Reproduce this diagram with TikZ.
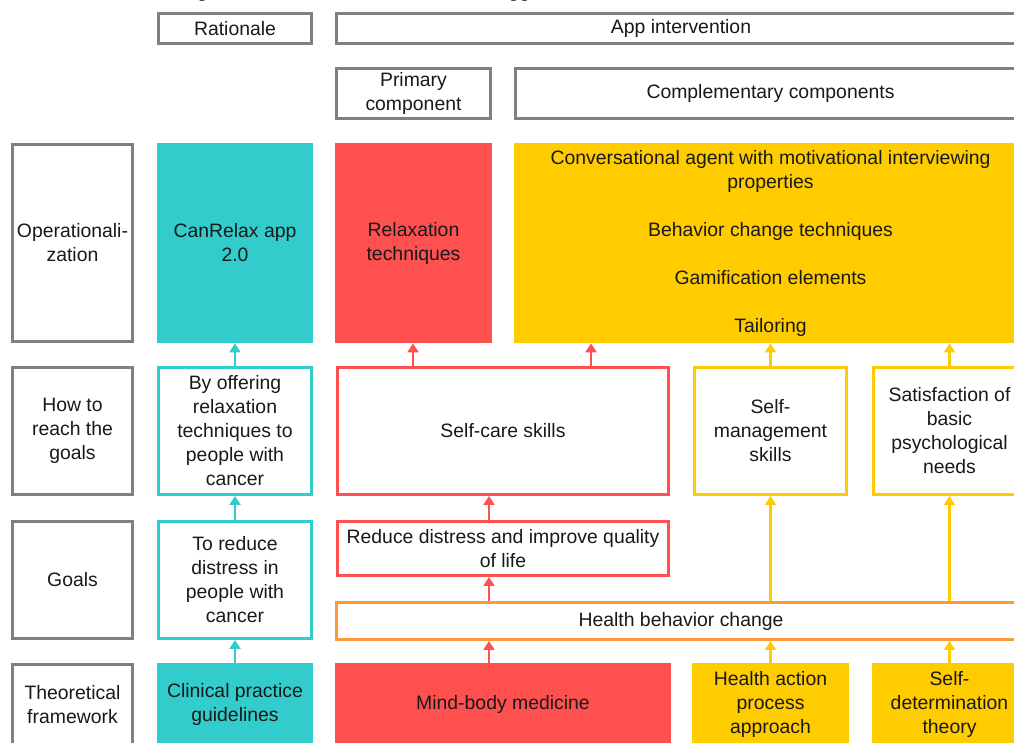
\documentclass[tikz,border=0pt]{standalone}
\usepackage{fontspec}
\setmainfont{Liberation Sans}
\newfontfamily\capfont{Liberation Serif}
\usetikzlibrary{arrows.meta}
\definecolor{cyanC}{RGB}{51,204,204}
\definecolor{redC}{RGB}{255,80,80}
\definecolor{yellowC}{RGB}{255,204,0}
\definecolor{orangeC}{RGB}{255,153,51}
\definecolor{greyC}{RGB}{128,128,128}
\definecolor{textC}{RGB}{25,25,25}
\begin{document}
\begin{tikzpicture}[x=0.5pt,y=-0.5pt,
  every node/.style={font=\fontsize{9.7pt}{12pt}\selectfont, text=textC, align=center, inner sep=0pt},
  sz/.style 2 args={minimum width=#1*0.5pt, minimum height=#2*0.5pt},
  greybox/.style={draw=greyC, line width=1.5pt, fill=white},
  linebox/.style={draw=#1, line width=1.5pt, fill=white},
  fillbox/.style={fill=#1},
  arr/.style={line width=1.25pt, color=#1, -{Triangle[width=5.5pt,length=4.5pt]}},
]
\useasboundingbox (0,0) rectangle (1014,743);
\fill[white] (0,0) rectangle (1014,743);

% clipped caption line at the top (only its lowest part shows)
\node[font=\capfont\fontsize{11pt}{13pt}\selectfont, text=black, anchor=base west, align=left] (caption) at (-57,-3.5)
  {Theoretical framework and operationalization of the CanRelax app 2.0.};

% header row
\node[greybox, sz={153}{30}] (rationale) at (235,28.5) {Rationale};
\node[greybox, sz={689}{30}] (appint) at (681,28.5) {App intervention};
\node[greybox, sz={154}{50}] (primary) at (413.5,93.5) {Primary\\component};
\node[greybox, sz={510}{50}] (complh) at (770.5,93.5) {Complementary components};

% left labels
\node[greybox, sz={120}{197}] (lop) at (72.5,243) {Operationali-\\zation};
\node[greybox, sz={120}{127}] (lhow) at (72.5,431) {How to\\reach the\\goals};
\node[greybox, sz={120}{117}] (lgoals) at (72.5,580) {Goals};
\node[greybox, sz={120}{80}] (ltheo) at (72.5,704.5) {Theoretical\\framework};

% operationalization row
\node[fillbox=cyanC, sz={156}{200}] (canrelax) at (235,243) {CanRelax app\\2.0};
\node[fillbox=redC, sz={157}{200}] (relax) at (413.5,243) {Relaxation\\techniques};
\node[fillbox=yellowC, sz={513}{200}] (compl) at (770.5,243)
  {Conversational agent with motivational interviewing\\properties\\[12pt]Behavior change techniques\\[12pt]Gamification elements\\[12pt]Tailoring};

% how to reach the goals row
\node[linebox=cyanC, sz={153}{127}] (offer) at (235,431) {By offering\\relaxation\\techniques to\\people with\\cancer};
\node[linebox=redC, sz={331}{127}] (selfcare) at (503,431) {Self-care skills};
\node[linebox=yellowC, sz={152}{127}] (selfman) at (770.5,431) {Self-\\management\\skills};
\node[linebox=yellowC, sz={152}{127}] (satis) at (949.5,431) {Satisfaction of\\basic\\psychological\\needs};

% goals row
\node[linebox=cyanC, sz={153}{117}] (toreduce) at (235,580) {To reduce\\distress in\\people with\\cancer};
\node[linebox=redC, sz={331}{54}] (reduce) at (503,548.5) {Reduce distress and improve quality\\of life};
\node[linebox=orangeC, sz={689}{37}] (hbc) at (681,621) {Health behavior change};

% theoretical framework row
\node[fillbox=cyanC, sz={156}{83}] (clin) at (235,704.5) {Clinical practice\\guidelines};
\node[fillbox=redC, sz={336}{83}] (mind) at (503,704.5) {Mind-body medicine};
\node[fillbox=yellowC, sz={157}{83}] (hap) at (770.5,704.5) {Health action\\process\\approach};
\node[fillbox=yellowC, sz={155}{83}] (sdt) at (949.5,704.5) {Self-\\determination\\theory};

% cyan arrows
\draw[arr=cyanC] (clin.north) -- (toreduce.south);
\draw[arr=cyanC] (toreduce.north) -- (offer.south);
\draw[arr=cyanC] (offer.north) -- (canrelax.south);

% red arrows
\draw[arr=redC] (mind.north -| 489,0) -- (hbc.south -| 489,0);
\draw[arr=redC] (hbc.north -| 489,0) -- (reduce.south -| 489,0);
\draw[arr=redC] (reduce.north -| 489,0) -- (selfcare.south -| 489,0);
\draw[arr=redC] (selfcare.north -| 413,0) -- (relax.south -| 413,0);
\draw[arr=redC] (selfcare.north -| 591,0) -- (compl.south -| 591,0);

% yellow arrows
\draw[arr=yellowC] (hap.north) -- (hbc.south -| hap.north);
\draw[arr=yellowC] (sdt.north) -- (hbc.south -| sdt.north);
\draw[arr=yellowC] (hbc.north -| selfman.south) -- (selfman.south);
\draw[arr=yellowC] (hbc.north -| satis.south) -- (satis.south);
\draw[arr=yellowC] (selfman.north) -- (compl.south -| selfman.north);
\draw[arr=yellowC] (satis.north) -- (compl.south -| satis.north);
\end{tikzpicture}
\end{document}
